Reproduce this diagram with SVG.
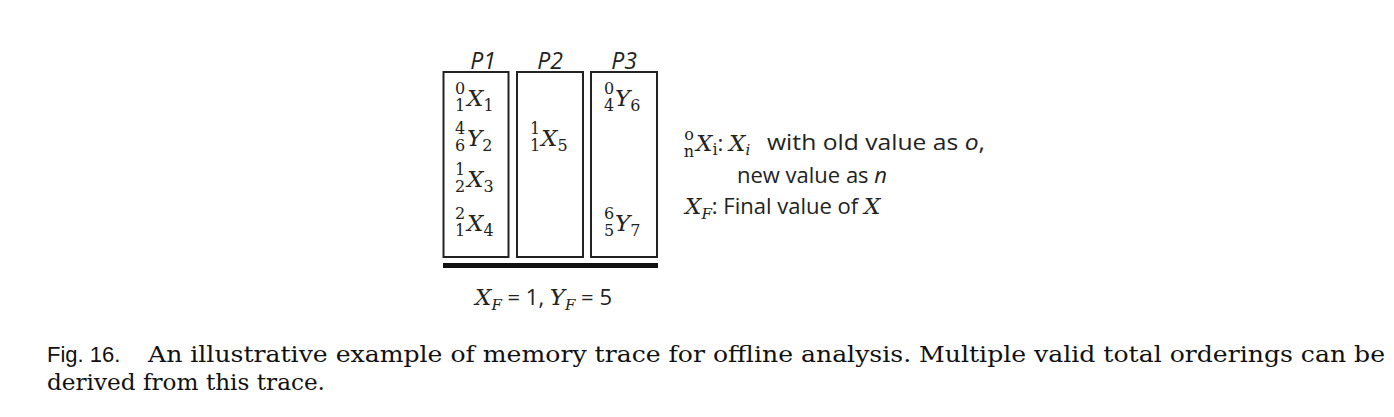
<svg xmlns="http://www.w3.org/2000/svg" width="1394" height="417" viewBox="0 0 1394 417">
<style>
.box{fill:none;stroke:#222;stroke-width:2}
.pl{font-family:"Open Sans","Liberation Sans",sans-serif;font-style:italic;font-size:23px;fill:#222;text-anchor:middle}
.mi{font-family:"DejaVu Serif",serif;font-style:italic;font-size:23px;fill:#222}
.ms{font-family:"DejaVu Serif",serif;font-style:italic;font-size:15px;fill:#222}
.sc{font-family:"DejaVu Serif",serif;font-size:16px;fill:#222}
.pre{font-family:"DejaVu Serif",serif;font-size:16px;fill:#222;text-anchor:middle}
.sn{font-family:"Open Sans","Liberation Sans",sans-serif;font-size:22px;fill:#222}
.cap{font-family:"DejaVu Serif",serif;font-size:23px;fill:#111}
.fig{font-family:"Liberation Sans",sans-serif;font-size:22px;fill:#111}
</style>
<rect width="1394" height="417" fill="#fff"/>
<g id="P1">
<rect class="box" x="443.5" y="72" width="65" height="185"/>
<text class="pl" x="483" y="69">P1</text>
<text class="pre" x="460" y="94">0</text><text class="pre" x="460" y="111">1</text>
<text x="467" y="106"><tspan class="mi">X</tspan><tspan class="sc" dy="5">1</tspan></text>
<text class="pre" x="460" y="134">4</text><text class="pre" x="460" y="151">6</text>
<text x="467" y="146"><tspan class="mi">Y</tspan><tspan class="sc" dy="5">2</tspan></text>
<text class="pre" x="460" y="175">1</text><text class="pre" x="460" y="192">2</text>
<text x="467" y="187"><tspan class="mi">X</tspan><tspan class="sc" dy="5">3</tspan></text>
<text class="pre" x="460" y="219">2</text><text class="pre" x="460" y="236">1</text>
<text x="467" y="231"><tspan class="mi">X</tspan><tspan class="sc" dy="5">4</tspan></text>
</g>
<g id="P2">
<rect class="box" x="517" y="72" width="66" height="185"/>
<text class="pl" x="550" y="69">P2</text>
<text class="pre" x="535" y="134">1</text><text class="pre" x="535" y="151">1</text>
<text x="541" y="146"><tspan class="mi">X</tspan><tspan class="sc" dy="5">5</tspan></text>
</g>
<g id="P3">
<rect class="box" x="591" y="72" width="66" height="185"/>
<text class="pl" x="624" y="69">P3</text>
<text class="pre" x="609" y="94">0</text><text class="pre" x="609" y="111">4</text>
<text x="615" y="106"><tspan class="mi">Y</tspan><tspan class="sc" dy="5">6</tspan></text>
<text class="pre" x="609" y="219">6</text><text class="pre" x="609" y="236">5</text>
<text x="615" y="231"><tspan class="mi">Y</tspan><tspan class="sc" dy="5">7</tspan></text>
</g>
<g id="connectors">
<rect x="443" y="263" width="215" height="5" fill="#111"/>
</g>
<g id="final">
<text x="475" y="305"><tspan class="mi">X</tspan><tspan class="ms" dy="5">F</tspan><tspan class="sn" dy="-5"> = 1, </tspan><tspan class="mi">Y</tspan><tspan class="ms" dy="5">F</tspan><tspan class="sn" dy="-5"> = 5</tspan></text>
</g>
<g id="legend">
<text class="pre" x="689" y="140">o</text><text class="pre" x="689" y="157">n</text>
<text x="696" y="151"><tspan class="mi">X</tspan><tspan class="sc" dy="4">i</tspan><tspan class="sn" dy="-4">:</tspan></text>
<text x="729" y="151"><tspan class="mi">X</tspan><tspan class="ms" dy="4">i</tspan></text>
<text class="sn" x="767" y="150" textLength="218" lengthAdjust="spacingAndGlyphs">with old value as <tspan font-style="italic">o</tspan>,</text>
<text class="sn" x="737" y="183" textLength="150" lengthAdjust="spacingAndGlyphs">new value as <tspan font-style="italic">n</tspan></text>
<text x="685" y="214"><tspan class="mi">X</tspan><tspan class="ms" dy="5">F</tspan><tspan class="sn" dy="-5">: Final value of </tspan><tspan class="mi">X</tspan></text>
</g>
<g id="caption">
<text class="fig" x="47" y="362">Fig. 16.</text>
<text class="cap" x="148" y="362" textLength="1237" lengthAdjust="spacingAndGlyphs">An illustrative example of memory trace for offline analysis. Multiple valid total orderings can be</text>
<text class="cap" x="47" y="390" textLength="278" lengthAdjust="spacingAndGlyphs">derived from this trace.</text>
</g>
</svg>
